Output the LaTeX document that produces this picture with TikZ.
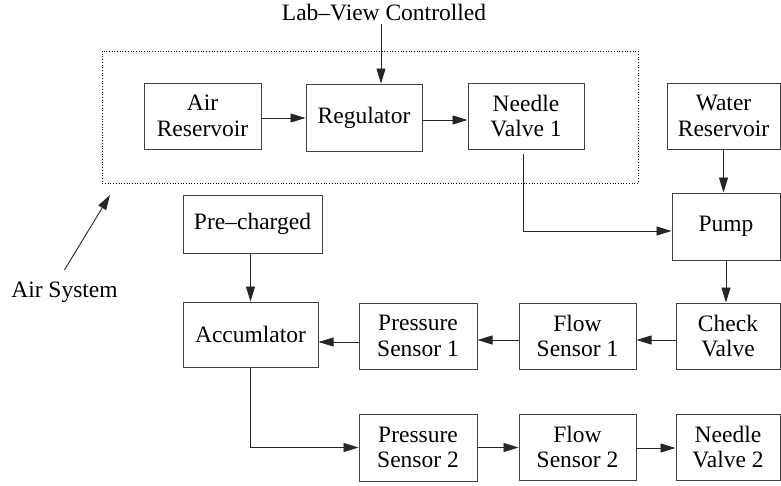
\documentclass[tikz,border=0pt]{standalone}
\usepackage{fontspec}
\setmainfont{Liberation Serif}
\usetikzlibrary{arrows.meta}
\begin{document}
\begin{tikzpicture}[x=1pt,y=-1pt,
  box/.style={draw=black!75, line width=1pt, inner sep=0pt, align=center, font=\fontsize{23.5}{25.5}\selectfont},
  lbl/.style={inner sep=0.333em, font=\fontsize{23.5}{25.5}\selectfont},
  arr/.style={draw=black!85, line width=0.9pt, -{Triangle[length=15pt,width=9pt]}},
  conn/.style={draw=black!85, line width=0.9pt}]
\useasboundingbox (0,0) rectangle (781,485);
\draw[dotted, line width=0.7pt] (102,51) rectangle (638,183);
\node[lbl, anchor=base] (lab) at (384,20) {Lab--View Controlled};
\node[lbl, anchor=base] (airsys) at (64.5,297) {Air System};
\coordinate (ashead) at (110,195);
% boxes
\node[box, minimum width=117pt, minimum height=66pt] (airres) at (202.5,116) {Air\\Reservoir};
\node[box, minimum width=116pt, minimum height=67pt] (reg) at (364,117.5) {Regulator};
\node[box, minimum width=116pt, minimum height=66pt] (nv1) at (526,116) {Needle\\Valve 1};
\node[box, minimum width=113pt, minimum height=66pt] (water) at (723.5,116) {Water\\Reservoir};
\node[box, minimum width=108pt, minimum height=67pt] (pump) at (726,226.5) {Pump};
\node[box, minimum width=139pt, minimum height=58pt] (pre) at (252.5,224) {Pre--charged};
\node[box, minimum width=135pt, minimum height=65pt] (acc) at (250.5,334.5) {Accumlator};
\node[box, minimum width=118pt, minimum height=66pt] (ps1) at (418,336) {Pressure\\Sensor 1};
\node[box, minimum width=117pt, minimum height=66pt] (fs1) at (577.5,336) {Flow\\Sensor 1};
\node[box, minimum width=104pt, minimum height=66pt] (check) at (728,336) {Check\\Valve};
\node[box, minimum width=118pt, minimum height=67pt] (ps2) at (418,447.5) {Pressure\\Sensor 2};
\node[box, minimum width=117pt, minimum height=66pt] (fs2) at (577.5,447) {Flow\\Sensor 2};
\node[box, minimum width=104pt, minimum height=66pt] (nv2) at (728,447) {Needle\\Valve 2};
% connectors
\draw[arr] ([xshift=-3pt]lab.south) -- ([xshift=-3pt]lab.south |- reg.north);
\draw[arr] ([yshift=-2pt]airres.east) -- ([yshift=-2pt]airres.east -| reg.west);
\draw[arr] ([yshift=-2.5pt]reg.east) -- ([yshift=-2.5pt]reg.east -| nv1.west);
\draw[arr] ([xshift=-3pt,yshift=-4pt]nv1.south) |- ([yshift=-4.5pt]pump.west);
\draw[arr] (water.south) -- (water.south |- pump.north);
\draw[arr] (pump.south) -- (pump.south |- check.north);
\draw[arr] ([yshift=-4pt]check.west) -- ([yshift=-4pt]check.west -| fs1.east);
\draw[arr] ([yshift=-4pt]fs1.west) -- ([yshift=-4pt]fs1.west -| ps1.east);
\draw[arr] ([yshift=-6pt]ps1.west) -- ([yshift=-6pt]ps1.west -| acc.east);
\draw[arr] (acc.north |- pre.south) -- (acc.north);
\draw[arr] (acc.south) |- (ps2.west);
\draw[arr] (ps2.east) -- (ps2.east -| fs2.west);
\draw[arr] ([yshift=-1pt]fs2.east) -- ([yshift=-1pt]fs2.east -| nv2.west);
\draw[arr] ([yshift=8pt]airsys.north) -- (ashead);
\end{tikzpicture}
\end{document}
